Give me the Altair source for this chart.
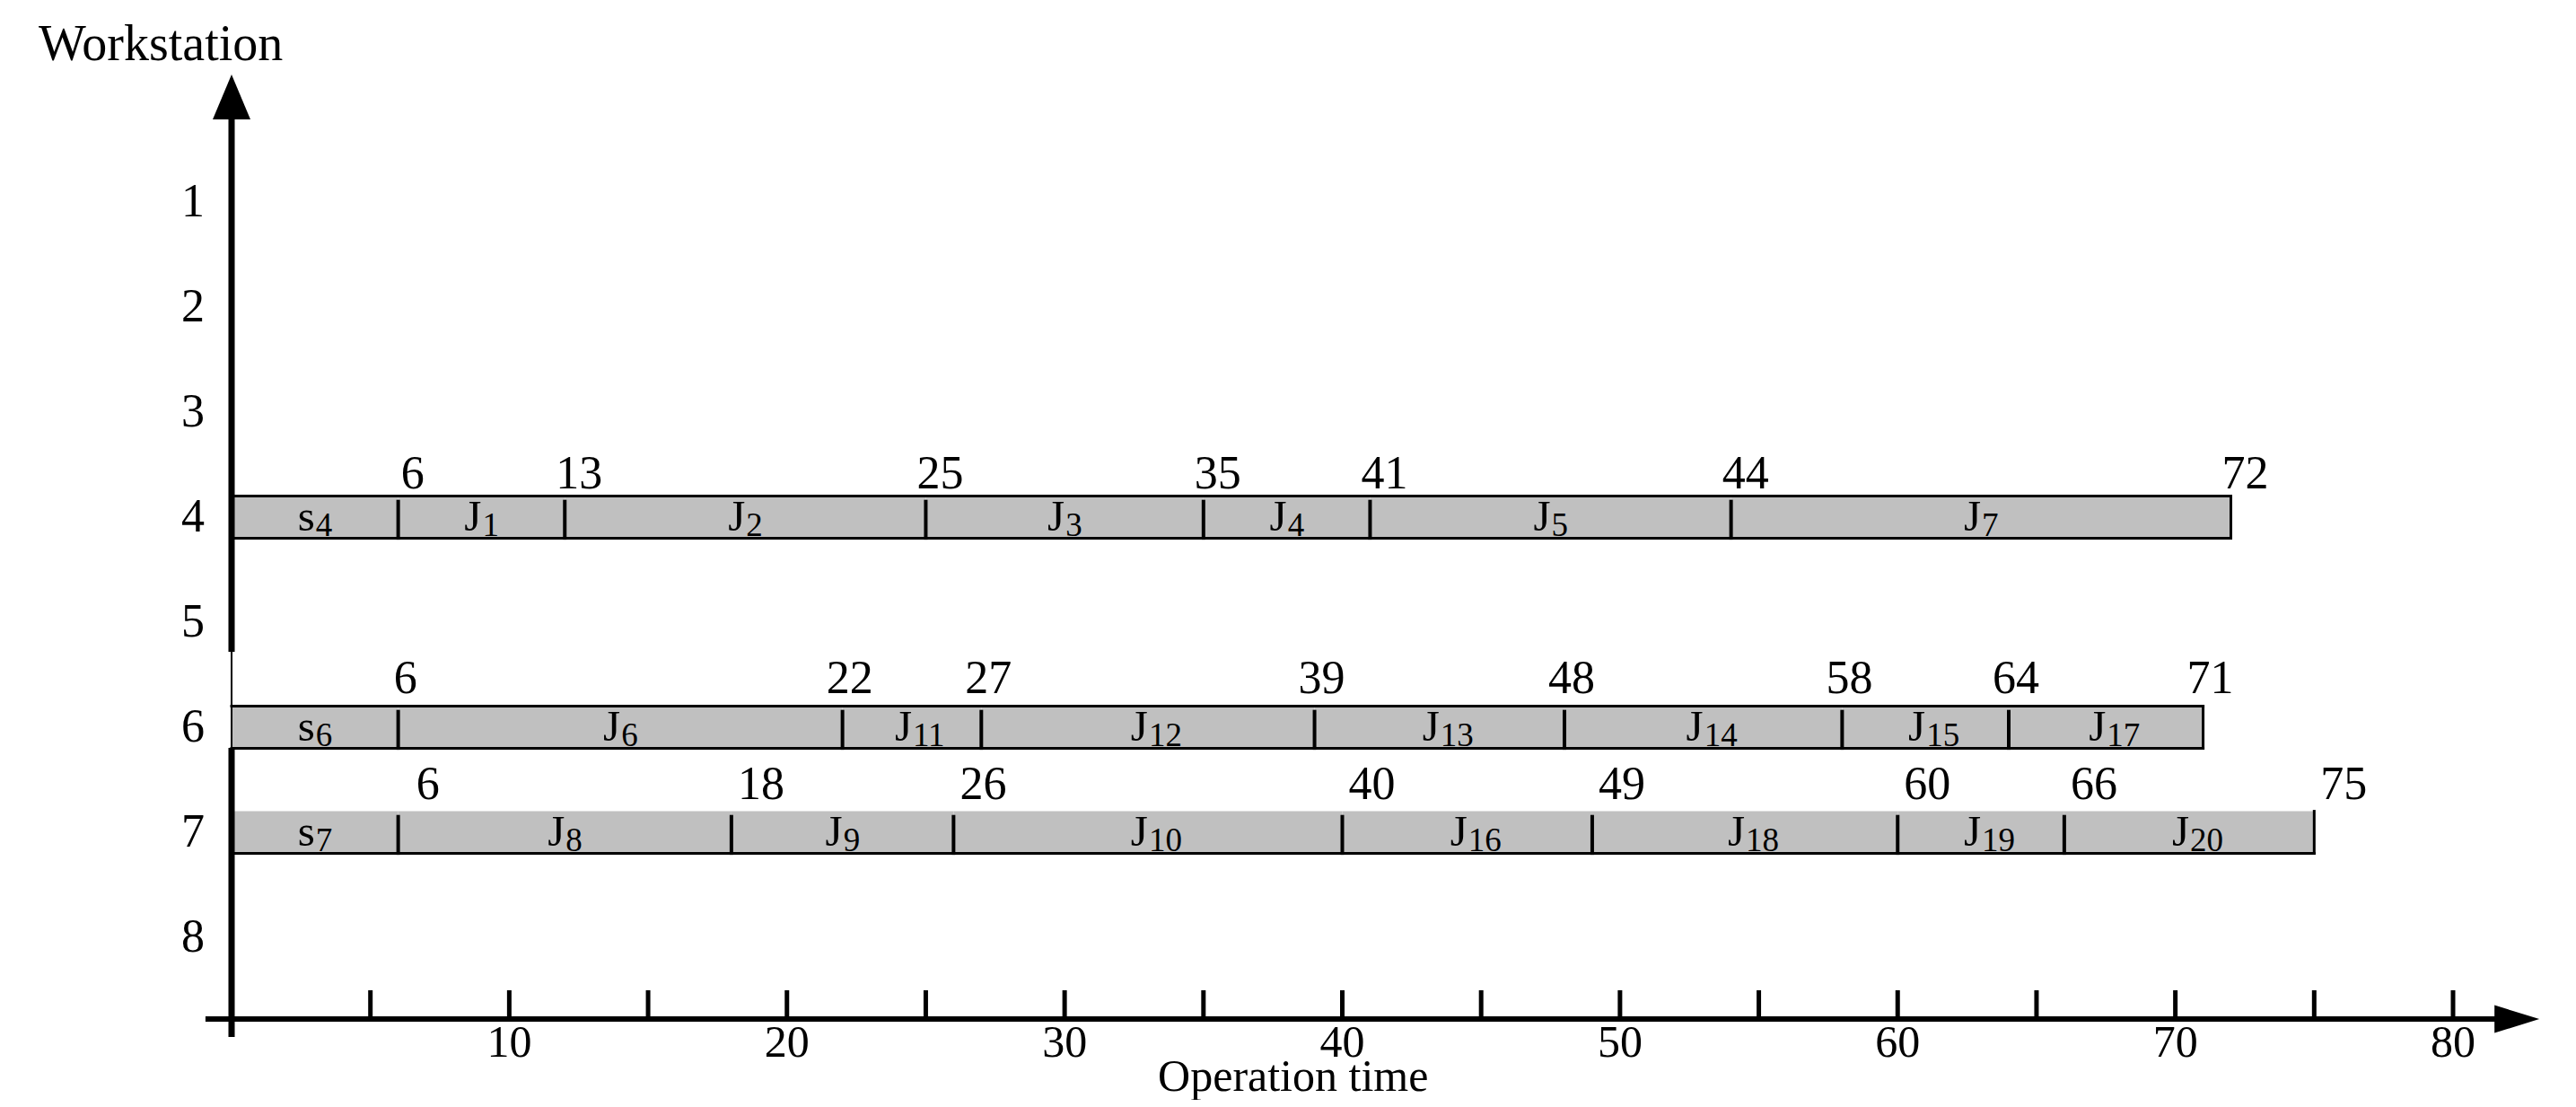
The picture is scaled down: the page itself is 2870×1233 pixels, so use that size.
import altair as alt
import pandas as pd

# ---------------- data ----------------
ROWS = [4, 6, 7]
JOBS_4 = ["s4", "J1", "J2", "J3", "J4", "J5", "J7"]
BOUNDS_4 = [0, 6, 12, 25, 35, 41, 54, 72]
MARKS_4 = ["6", "13", "25", "35", "41", "44", "72"]

JOBS_6 = ["s6", "J6", "J11", "J12", "J13", "J14", "J15", "J17"]
BOUNDS_6 = [0, 6, 22, 27, 39, 48, 58, 64, 71]
MARKS_6 = ["6", "22", "27", "39", "48", "58", "64", "71"]

JOBS_7 = ["s7", "J8", "J9", "J10", "J16", "J18", "J19", "J20"]
BOUNDS_7 = [0, 6, 18, 26, 40, 49, 60, 66, 75]
MARKS_7 = ["6", "18", "26", "40", "49", "60", "66", "75"]

WORKSTATIONS = [1, 2, 3, 4, 5, 6, 7, 8]
X_TICKS = [5, 10, 15, 20, 25, 30, 35, 40, 45, 50, 55, 60, 65, 70, 75, 80]
X_TICK_LABELS = [10, 20, 30, 40, 50, 60, 70, 80]

# ---------------- build tables ----------------
records = []
for row, jobs, bounds, marks in [
    (4, JOBS_4, BOUNDS_4, MARKS_4),
    (6, JOBS_6, BOUNDS_6, MARKS_6),
    (7, JOBS_7, BOUNDS_7, MARKS_7),
]:
    n = len(jobs)
    for i, name in enumerate(jobs):
        records.append(
            dict(
                row=row,
                start=bounds[i],
                end=bounds[i + 1],
                letter=name[0],
                sub=name[1:],
                mark=marks[i],
                first=(i == 0),
                last=(i == n - 1),
            )
        )
seg = pd.DataFrame(records)

FONT = "Liberation Serif"
GRAY = "#c0c0c0"
HALF = 0.2  # half bar height in row units

xs = alt.Scale(domain=[0, 80], nice=False, zero=False)
ys = alt.Scale(domain=[0, 9], nice=False, zero=False, reverse=True)


def X(f):
    return alt.X(f, type="quantitative", scale=xs, axis=None)


def Y(f):
    return alt.Y(f, type="quantitative", scale=ys, axis=None)


def XD(v):
    return alt.XDatum(v, type="quantitative", scale=xs, axis=None)


def YD(v):
    return alt.YDatum(v, type="quantitative", scale=ys, axis=None)


base = alt.Chart(seg).transform_calculate(
    top=f"datum.row - {HALF}",
    bot=f"datum.row + {HALF}",
    mid="(datum.start + datum.end) / 2",
    dtop="datum.row - 0.165",
    dbot="datum.row + 0.215",
)

layers = []

# bar fill
layers.append(
    base.mark_rect(fill=GRAY, strokeWidth=0).encode(
        x=X("start"), x2=alt.X2("end"), y=Y("top"), y2=alt.Y2("bot")
    )
)
# bottom edges
layers.append(
    base.mark_rule(color="black", strokeWidth=3, strokeCap="square").encode(
        x=X("start"), x2=alt.X2("end"), y=Y("bot")
    )
)
# top edges (row 7 drawn without a top edge)
layers.append(
    base.transform_filter("datum.row != 7")
    .mark_rule(color="black", strokeWidth=3, strokeCap="square")
    .encode(x=X("start"), x2=alt.X2("end"), y=Y("top"))
)
# right edges
layers.append(
    base.transform_filter("datum.last")
    .mark_rule(color="black", strokeWidth=3, strokeCap="square")
    .encode(x=X("end"), y=Y("top"), y2=alt.Y2("bot"))
)
# left edges
layers.append(
    base.transform_filter("datum.first")
    .mark_rule(color="black", strokeWidth=2)
    .encode(x=X("start"), y=Y("top"), y2=alt.Y2("bot"))
)
# dividers
layers.append(
    base.transform_filter("datum.start > 0")
    .mark_rule(color="black", strokeWidth=4)
    .encode(x=X("start"), y=Y("dtop"), y2=alt.Y2("dbot"))
)
# job letters and subscripts
layers.append(
    base.mark_text(
        font=FONT, fontSize=49, align="right", baseline="alphabetic", dy=-8, color="black"
    ).encode(x=X("mid"), y=Y("bot"), text="letter:N")
)
layers.append(
    base.mark_text(
        font=FONT, fontSize=37, align="left", baseline="alphabetic", dy=-2, dx=1, color="black"
    ).encode(x=X("mid"), y=Y("bot"), text="sub:N")
)
# completion-time labels above the bars
LABEL_OFFSETS = {4: (16, -9), 6: (8, -15), 7: (33, -14)}
for row in ROWS:
    dx, dy = LABEL_OFFSETS[row]
    layers.append(
        base.transform_filter(f"datum.row == {row}")
        .mark_text(
            font=FONT, fontSize=52, align="center", baseline="alphabetic",
            dx=dx, dy=dy, color="black",
        )
        .encode(x=X("end"), y=Y("top"), text="mark:N")
    )

one = pd.DataFrame({"k": [0]})

# ---------------- axes ----------------
X_AXIS_Y = 8.778
# x-axis line
layers.append(
    alt.Chart(one).mark_rule(color="black", strokeWidth=6).encode(
        x=XD(-0.94), x2=alt.X2Datum(81.8), y=YD(X_AXIS_Y)
    )
)
# x ticks (pointing up)
tick_df = pd.DataFrame({"t": X_TICKS})
layers.append(
    alt.Chart(tick_df).mark_rule(color="black", strokeWidth=5).encode(
        x=X("t"), y=YD(8.504), y2=alt.Y2Datum(X_AXIS_Y)
    )
)
# x tick labels
lab_df = pd.DataFrame({"v": X_TICK_LABELS})
layers.append(
    alt.Chart(lab_df).mark_text(
        font=FONT, fontSize=50, align="center", baseline="alphabetic", dy=42, color="black"
    ).encode(x=X("v"), y=YD(X_AXIS_Y), text="v:N")
)
# x arrow head
layers.append(
    alt.Chart(one).mark_point(
        shape="M-1,-0.62L1,0L-1,0.62Z", size=2500, filled=True, color="black",
        opacity=1, strokeWidth=0,
    ).encode(x=XD(82.3), y=YD(X_AXIS_Y))
)
# y-axis line (thick, with a thin section near workstation 5-6)
yaxis_df = pd.DataFrame({"y0": [0.214, 6.197], "y1": [5.282, 8.949]})
layers.append(
    alt.Chart(yaxis_df).mark_rule(color="black", strokeWidth=7).encode(
        x=XD(0), y=Y("y0"), y2=alt.Y2("y1")
    )
)
layers.append(
    alt.Chart(one).mark_rule(color="black", strokeWidth=2).encode(
        x=XD(0), y=YD(5.282), y2=alt.Y2Datum(6.197)
    )
)
# y arrow head
layers.append(
    alt.Chart(one).mark_point(
        shape="M0,-1L0.84,1L-0.84,1Z", size=2500, filled=True, color="black",
        opacity=1, strokeWidth=0,
    ).encode(x=XD(0), y=YD(0))
)
# y labels
ws_df = pd.DataFrame({"w": WORKSTATIONS})
layers.append(
    alt.Chart(ws_df).mark_text(
        font=FONT, fontSize=52, align="right", baseline="alphabetic", dx=-30, dy=16, color="black"
    ).encode(x=XD(0), y=Y("w"), text="w:N")
)
# titles
layers.append(
    alt.Chart(one).mark_text(
        font=FONT, fontSize=56, align="center", baseline="alphabetic", color="black"
    ).encode(x=XD(-2.55), y=YD(-0.35), text=alt.value("Workstation"))
)
layers.append(
    alt.Chart(one).mark_text(
        font=FONT, fontSize=50, align="left", baseline="alphabetic", color="black"
    ).encode(x=XD(33.36), y=YD(9.46), text=alt.value("Operation time"))
)

chart = (
    alt.layer(*layers)
    .properties(
        width=2475,
        height=1053,
        autosize=alt.AutoSizeParams(type="none"),
        padding={"left": 250, "top": 100, "right": 120, "bottom": 64},
        background="white",
    )
    .configure_view(stroke=None)
)

chart.save("out.html", embed_options={"renderer": "svg", "actions": False})
